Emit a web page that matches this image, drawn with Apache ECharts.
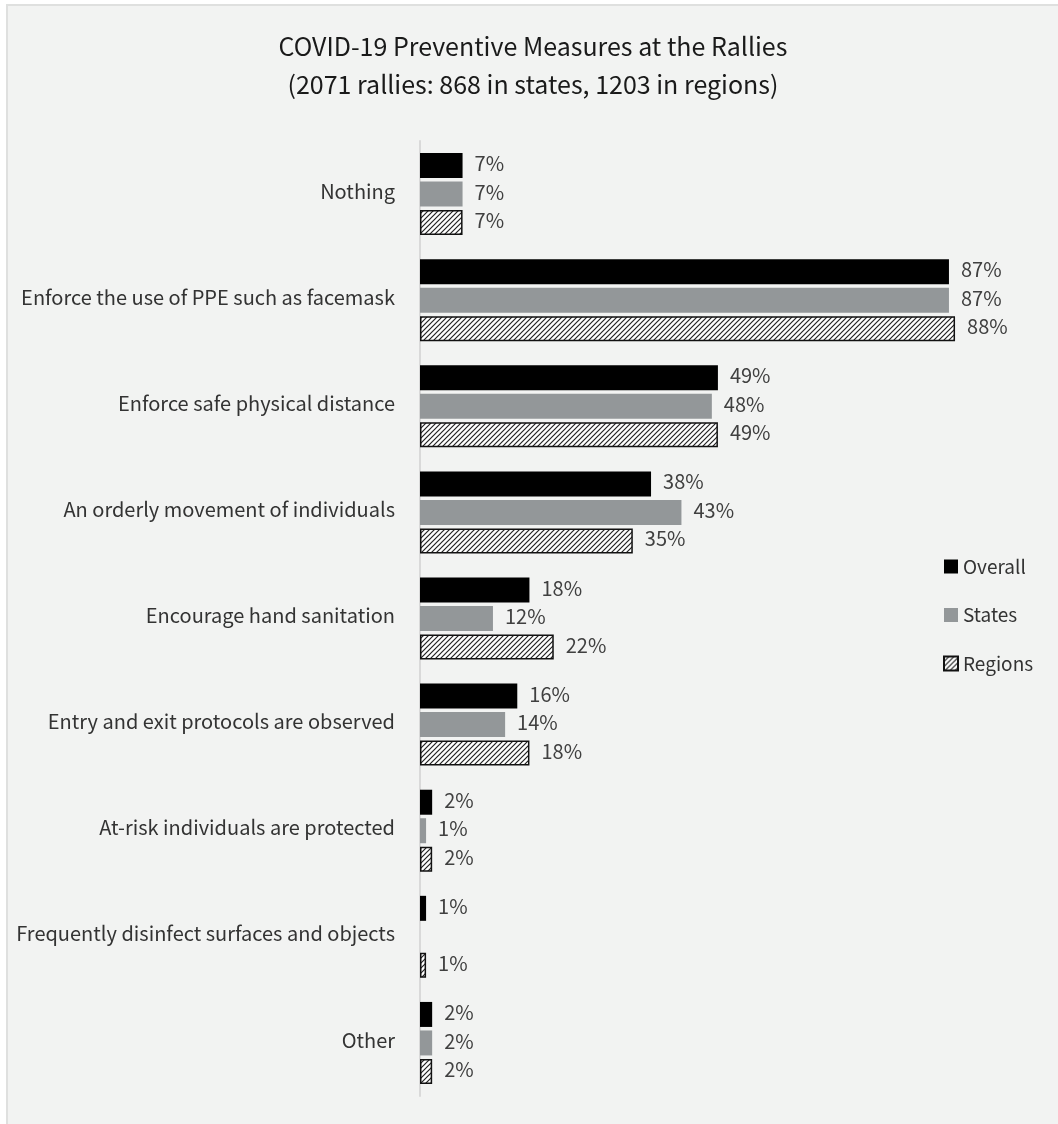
<!DOCTYPE html>
<html>
<head>
<meta charset="utf-8">
<script src="https://cdn.jsdelivr.net/npm/echarts@6/dist/echarts.min.js"></script>
<style>
html,body{margin:0;padding:0;background:#ffffff;width:1058px;height:1124px;overflow:hidden;}
#wrap{position:absolute;left:6px;top:4px;width:1052px;height:1120px;box-sizing:border-box;border-left:2px solid #dfe0df;border-top:2px solid #dfe0df;background:#f2f3f2;}
#chart{width:1050px;height:1118px;}
</style>
</head>
<body>
<div id="wrap"><div id="chart"></div></div>
<script>
const categories = [
  'Nothing',
  'Enforce the use of PPE such as facemask',
  'Enforce safe physical distance',
  'An orderly movement of individuals',
  'Encourage hand sanitation',
  'Entry and exit protocols are observed',
  'At-risk individuals are protected',
  'Frequently disinfect surfaces and objects',
  'Other'
];
const overallValues = [7, 87, 49, 38, 18, 16, 2, 1, 2];
const statesValues = [7, 87, 48, 43, 12, 14, 1, null, 2];
const regionsValues = [7, 88, 49, 35, 22, 18, 2, 1, 2];

function makeHatch() {
  const s = 5;
  const c = document.createElement('canvas');
  c.width = s; c.height = s;
  const ctx = c.getContext('2d');
  ctx.fillStyle = '#ffffff';
  ctx.fillRect(0, 0, s, s);
  ctx.strokeStyle = '#222222';
  ctx.lineWidth = 1.2;
  ctx.beginPath();
  ctx.moveTo(-1, s + 1); ctx.lineTo(s + 1, -1);
  ctx.moveTo(-1, 1); ctx.lineTo(1, -1);
  ctx.moveTo(s - 1, s + 1); ctx.lineTo(s + 1, s - 1);
  ctx.stroke();
  return c;
}
const hatch = { image: makeHatch(), repeat: 'repeat' };

const TXT = 'Noto Sans CJK SC';
const labelStyle = {
  show: true,
  position: 'right',
  distance: 12,
  offset: [0, -2],
  fontFamily: TXT,
  fontSize: 20,
  color: '#404040',
  formatter: p => p.value + '%'
};

const chart = echarts.init(document.getElementById('chart'));
chart.setOption({
  backgroundColor: '#f2f3f2',
  animation: false,
  title: {
    text: 'COVID-19 Preventive Measures at the Rallies\n(2071 rallies: 868 in states, 1203 in regions)',
    left: 'center',
    top: 16,
    textStyle: {
      fontFamily: TXT,
      fontSize: 25,
      fontWeight: 'normal',
      color: '#1a1a1a',
      lineHeight: 38
    }
  },
  legend: {
    orient: 'vertical',
    left: 930,
    top: 546,
    itemWidth: 14,
    itemHeight: 14,
    itemGap: 29.5,
    textStyle: { fontFamily: TXT, fontSize: 19, color: '#333333' },
    data: [
      { name: 'Overall', icon: 'rect' },
      { name: 'States', icon: 'rect' },
      { name: 'Regions', icon: 'rect' }
    ]
  },
  grid: { left: 412, right: 30, top: 135, bottom: 28, containLabel: false },
  xAxis: {
    type: 'value',
    min: 0,
    max: 100,
    show: false
  },
  yAxis: {
    type: 'category',
    data: categories,
    inverse: true,
    axisLine: { show: true, lineStyle: { color: '#d9d9d9', width: 2 } },
    axisTick: { show: false },
    axisLabel: {
      margin: 25,
      fontFamily: TXT,
      fontSize: 20,
      color: '#333333',
      formatter: v => '{a|' + v + '}',
      rich: {
        a: {
          fontFamily: TXT,
          fontSize: 20,
          color: '#333333',
          padding: [0, 0, 6, 0]
        }
      }
    }
  },
  series: [
    {
      name: 'Overall',
      type: 'bar',
      data: overallValues,
      barWidth: 25,
      barGap: '14%',
      itemStyle: { color: '#000000' },
      label: labelStyle
    },
    {
      name: 'States',
      type: 'bar',
      data: statesValues,
      barWidth: 25,
      barGap: '14%',
      itemStyle: { color: '#939799' },
      label: labelStyle
    },
    {
      name: 'Regions',
      type: 'bar',
      data: regionsValues,
      barWidth: 25,
      barGap: '14%',
      itemStyle: { color: hatch, borderColor: '#111111', borderWidth: 1.5 },
      label: labelStyle
    }
  ]
});
</script>
</body>
</html>
